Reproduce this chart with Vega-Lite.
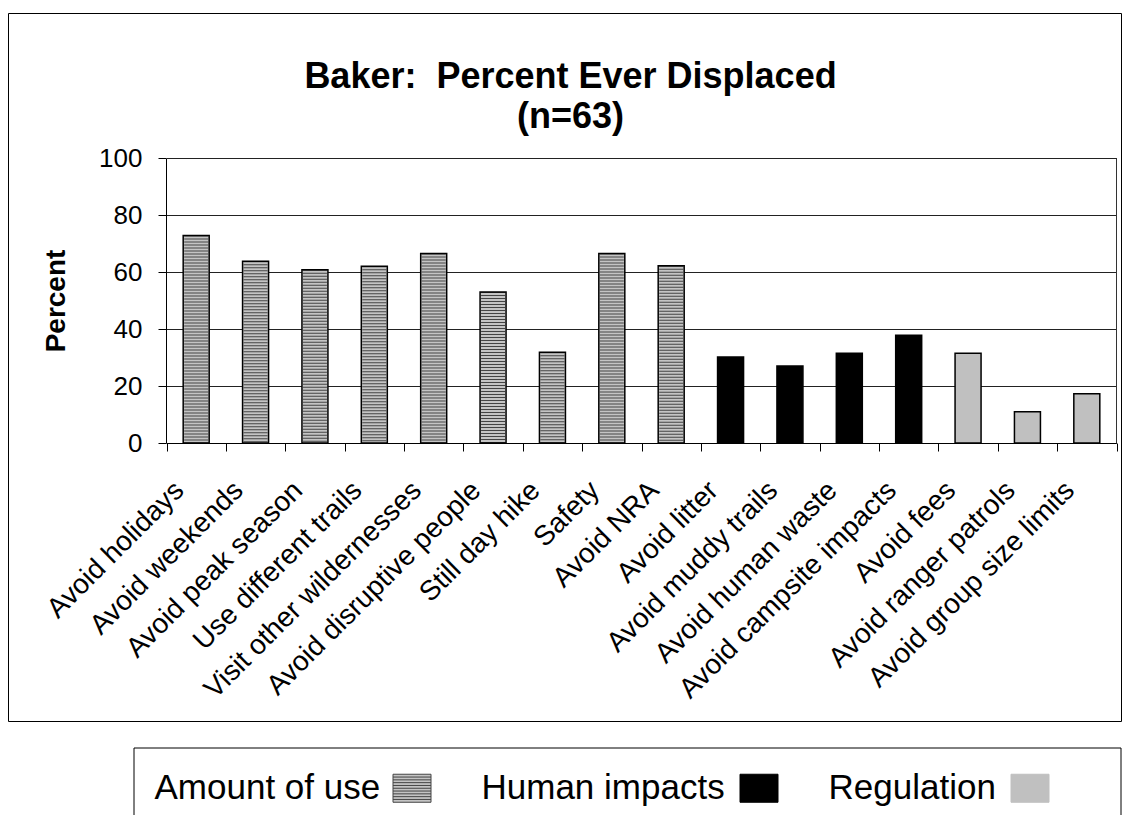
{
  "$schema": "https://vega.github.io/schema/vega-lite/v6.json",
  "autosize": {"type": "none"},
  "width": 1113,
  "height": 708,
  "padding": {"left": 8, "top": 13, "right": 1, "bottom": 94},
  "background": "white",
  "config": {
    "font": "Liberation Sans",
    "view": {"stroke": "#000000", "strokeWidth": 1, "fill": "white"},
    "axis": {"labelColor": "#000000", "titleColor": "#000000", "domainColor": "#000000", "tickColor": "#000000", "labelFont": "Liberation Sans", "titleFont": "Liberation Sans"}
  },
  "title": {
    "text": ["Baker:\u00a0 Percent Ever Displaced", "(n=63)"],
    "font": "Liberation Sans",
    "fontSize": 36,
    "fontWeight": "bold",
    "color": "#000000",
    "anchor": "middle",
    "lineHeight": 40,
    "offset": -123,
    "dx": 6
  },
  "data": {
    "values": [
      {"Reason": "Avoid holidays", "Percent": 72.8, "Group": "Amount of use"},
      {"Reason": "Avoid weekends", "Percent": 63.8, "Group": "Amount of use"},
      {"Reason": "Avoid peak season", "Percent": 60.8, "Group": "Amount of use"},
      {"Reason": "Use different trails", "Percent": 62.0, "Group": "Amount of use"},
      {"Reason": "Visit other wildernesses", "Percent": 66.5, "Group": "Amount of use"},
      {"Reason": "Avoid disruptive people", "Percent": 53.0, "Group": "Amount of use"},
      {"Reason": "Still day hike", "Percent": 31.8, "Group": "Amount of use"},
      {"Reason": "Safety", "Percent": 66.5, "Group": "Amount of use"},
      {"Reason": "Avoid NRA", "Percent": 62.2, "Group": "Amount of use"},
      {"Reason": "Avoid litter", "Percent": 30.2, "Group": "Human impacts"},
      {"Reason": "Avoid muddy trails", "Percent": 27.0, "Group": "Human impacts"},
      {"Reason": "Avoid human waste", "Percent": 31.5, "Group": "Human impacts"},
      {"Reason": "Avoid campsite impacts", "Percent": 37.8, "Group": "Human impacts"},
      {"Reason": "Avoid fees", "Percent": 31.5, "Group": "Regulation"},
      {"Reason": "Avoid ranger patrols", "Percent": 11.0, "Group": "Regulation"},
      {"Reason": "Avoid group size limits", "Percent": 17.3, "Group": "Regulation"}
    ]
  },
  "layer": [
    {
      "mark": {"type": "bar", "width": 26},
      "encoding": {
        "x": {
          "field": "Reason",
          "type": "nominal",
          "sort": null,
          "scale": {"range": [158.5, 1108.5], "paddingInner": 0, "paddingOuter": 0},
          "axis": {
            "orient": "bottom",
            "offset": -278,
            "title": null,
            "labelAngle": -45,
            "labelAlign": "right",
            "labelBaseline": "middle",
            "labelFontSize": 28,
            "labelPadding": 35,
            "labelOffset": -17,
            "labelLimit": 0,
            "labelOverlap": false,
            "tickSize": 8,
            "tickBand": "extent",
            "grid": false
          }
        },
        "y": {
          "field": "Percent",
          "type": "quantitative",
          "scale": {"domain": [0, 100], "range": [430, 145], "nice": false},
          "axis": {
            "orient": "left",
            "offset": -158,
            "title": "Percent",
            "titleFontSize": 28,
            "titleFontWeight": "bold",
            "titlePadding": 28,
            "values": [0, 20, 40, 60, 80, 100],
            "labelFontSize": 26,
            "labelPadding": 16,
            "tickSize": 8,
            "grid": true,
            "gridColor": "#222222",
            "gridWidth": 1
          }
        },
        "fill": {
          "field": "Group",
          "type": "nominal",
          "scale": {"domain": ["Amount of use", "Human impacts", "Regulation"], "range": ["#c4c4c4", "#000000", "#c0c0c0"]},
          "legend": {
            "orient": "none",
            "legendX": 125.5,
            "legendY": 734.5,
            "direction": "horizontal",
            "title": "Amount of use",
            "titleOrient": "left",
            "titleFont": "Liberation Sans",
            "titleFontSize": 35,
            "titleFontWeight": "normal",
            "titleColor": "#000000",
            "titlePadding": 12,
            "titleLimit": 1000,
            "labelExpr": "datum.label == 'Amount of use' ? 'Human impacts' : datum.label == 'Human impacts' ? 'Regulation' : ''",
            "labelFont": "Liberation Sans",
            "labelFontSize": 35,
            "labelColor": "#000000",
            "labelOffset": 50,
            "labelLimit": 1000,
            "padding": 21,
            "strokeColor": "#000000",
            "fillColor": "white",
            "symbolType": "M-1,-0.737H1V0.737H-1ZM-1,-0.589H1M-1,-0.442H1M-1,-0.295H1M-1,-0.147H1M-1,0H1M-1,0.147H1M-1,0.295H1M-1,0.442H1M-1,0.589H1",
            "symbolSize": 1444,
            "symbolStrokeWidth": 1,
            "columnPadding": 12
          }
        }
      }
    },
    {
      "mark": {"type": "rule", "strokeWidth": 24, "strokeDash": [1, 2], "strokeCap": "butt"},
      "encoding": {
        "x": {"field": "Reason", "type": "nominal", "sort": null},
        "y": {"field": "Percent", "type": "quantitative", "axis": null},
        "y2": {"datum": 0},
        "stroke": {
          "field": "Group",
          "type": "nominal",
          "scale": {"domain": ["Amount of use", "Human impacts", "Regulation"], "range": ["#444444", "#000000", "#c0c0c0"]},
          "legend": {
            "orient": "none",
            "legendX": 125.5,
            "legendY": 734.5,
            "direction": "horizontal",
            "title": "Amount of use",
            "titleOrient": "left",
            "titleFont": "Liberation Sans",
            "titleFontSize": 35,
            "titleFontWeight": "normal",
            "titleColor": "#000000",
            "titlePadding": 12,
            "titleLimit": 1000,
            "labelExpr": "datum.label == 'Amount of use' ? 'Human impacts' : datum.label == 'Human impacts' ? 'Regulation' : ''",
            "labelFont": "Liberation Sans",
            "labelFontSize": 35,
            "labelColor": "#000000",
            "labelOffset": 50,
            "labelLimit": 1000,
            "padding": 21,
            "strokeColor": "#000000",
            "fillColor": "white",
            "symbolType": "M-1,-0.737H1V0.737H-1ZM-1,-0.589H1M-1,-0.442H1M-1,-0.295H1M-1,-0.147H1M-1,0H1M-1,0.147H1M-1,0.295H1M-1,0.442H1M-1,0.589H1",
            "symbolSize": 1444,
            "symbolStrokeWidth": 1,
            "columnPadding": 12
          }
        }
      }
    },
    {
      "mark": {"type": "bar", "width": 26, "filled": false, "stroke": "#000000", "strokeWidth": 1.5},
      "encoding": {
        "x": {"field": "Reason", "type": "nominal", "sort": null},
        "y": {
          "field": "Percent",
          "type": "quantitative",
          "axis": {"orient": "right", "offset": -5, "labels": false, "ticks": false, "grid": false, "title": null, "domainColor": "#333333"}
        }
      }
    }
  ],
  "resolve": {"axis": {"y": "independent"}}
}
